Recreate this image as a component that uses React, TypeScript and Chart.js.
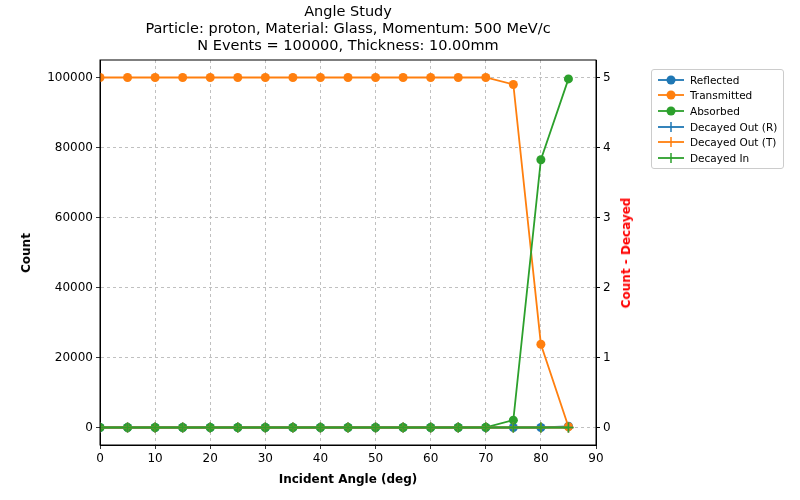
import { useEffect, useRef } from 'react'
import Chart from 'chart.js/auto'

const angles = [0, 5, 10, 15, 20, 25, 30, 35, 40, 45, 50, 55, 60, 65, 70, 75, 80, 85]
const reflected = [0, 0, 0, 0, 0, 0, 0, 0, 0, 0, 0, 0, 0, 0, 0, 0, 0, 350]
const transmitted = [100000, 100000, 100000, 100000, 100000, 100000, 100000, 100000, 100000, 100000, 100000, 100000, 100000, 100000, 100000, 98000, 23800, 200]
const absorbed = [0, 0, 0, 0, 0, 0, 0, 0, 0, 0, 0, 0, 0, 0, 50, 2100, 76500, 99600]
const decayedOutR = angles.map(() => 0)
const decayedOutT = angles.map(() => 0)
const decayedIn = angles.map(() => 0)
const countTicks = [0, 20000, 40000, 60000, 80000, 100000]
const decayTicks = [0, 1, 2, 3, 4, 5]

const BLUE = '#1f77b4'
const ORANGE = '#ff7f0e'
const GREEN = '#2ca02c'
const FONT = 'DejaVu Sans'

const legendItems = [
  { label: 'Reflected', color: BLUE, marker: 'circle' },
  { label: 'Transmitted', color: ORANGE, marker: 'circle' },
  { label: 'Absorbed', color: GREEN, marker: 'circle' },
  { label: 'Decayed Out (R)', color: BLUE, marker: 'cross' },
  { label: 'Decayed Out (T)', color: ORANGE, marker: 'cross' },
  { label: 'Decayed In', color: GREEN, marker: 'cross' },
]

export default function App() {
  const chartRef = useRef<HTMLCanvasElement>(null)
  const chartInstance = useRef<Chart | null>(null)

  useEffect(() => {
    if (!chartRef.current) return
    if (chartInstance.current) chartInstance.current.destroy()

    const line = (label: string, data: number[], color: string, axis: string, style: string, i: number) => ({
      label,
      data,
      borderColor: color,
      backgroundColor: color,
      borderWidth: 1.8,
      pointStyle: style,
      pointRadius: style === 'circle' ? 4.5 : 5,
      pointBorderWidth: style === 'circle' ? 0 : 1.5,
      yAxisID: axis,
      order: 6 - i,
    })

    const frame = {
      id: 'frame',
      afterDraw(c: Chart) {
        const { ctx, chartArea: a } = c
        ctx.save()
        ctx.strokeStyle = '#000'
        ctx.lineWidth = 1
        ctx.strokeRect(a.left, a.top, a.right - a.left, a.bottom - a.top)
        ctx.restore()
      },
    }

    const grid = { color: '#b0b0b0', lineWidth: 0.8, tickLength: 4, tickColor: '#000' }
    const tickFont = { family: FONT, size: 12 }

    chartInstance.current = new Chart(chartRef.current, {
      type: 'line',
      data: {
        labels: angles,
        datasets: [
          line('Reflected', reflected, BLUE, 'y', 'circle', 0),
          line('Transmitted', transmitted, ORANGE, 'y', 'circle', 1),
          line('Absorbed', absorbed, GREEN, 'y', 'circle', 2),
          line('Decayed Out (R)', decayedOutR, BLUE, 'y1', 'cross', 3),
          line('Decayed Out (T)', decayedOutT, ORANGE, 'y1', 'cross', 4),
          line('Decayed In', decayedIn, GREEN, 'y1', 'cross', 5),
        ] as any,
      },
      options: {
        animation: false,
        responsive: false,
        layout: { padding: { top: 60, right: 164, left: 0, bottom: 0 } },
        plugins: { legend: { display: false }, tooltip: { enabled: false } },
        scales: {
          x: {
            type: 'linear',
            min: 0,
            max: 90,
            ticks: { stepSize: 10, color: '#000', font: tickFont },
            grid,
            border: { color: '#000', dash: [3, 3] },
            afterFit: (s: any) => { s.height = 55 },
          },
          y: {
            min: -5000,
            max: 105000,
            afterBuildTicks: (s: any) => { s.ticks = countTicks.map(v => ({ value: v })) },
            ticks: { color: '#000', font: tickFont, callback: (v: any) => String(v) },
            grid,
            border: { color: '#000', dash: [3, 3] },
            afterFit: (s: any) => { s.width = 100 },
          },
          y1: {
            position: 'right',
            min: -0.25,
            max: 5.25,
            afterBuildTicks: (s: any) => { s.ticks = decayTicks.map(v => ({ value: v })) },
            ticks: { color: '#000', font: tickFont },
            grid: { drawOnChartArea: false, tickLength: 4, tickColor: '#000' },
            border: { color: '#000' },
            afterFit: (s: any) => { s.width = 40 },
          },
        },
      } as any,
      plugins: [frame],
    })

    return () => {
      if (chartInstance.current) chartInstance.current.destroy()
    }
  }, [])

  const label = { position: 'absolute' as const, fontSize: 12, fontWeight: 'bold' as const, whiteSpace: 'nowrap' as const }

  return (
    <div style={{ position: 'fixed', left: 0, top: 0, width: 800, height: 500, background: '#fff', fontFamily: FONT }}>
      <div style={{ position: 'absolute', top: 3, left: 40, width: 616, textAlign: 'center', fontSize: 14.5, lineHeight: '17px' }}>
        <div>Angle Study</div>
        <div>Particle: proton, Material: Glass, Momentum: 500 MeV/c</div>
        <div>N Events = 100000, Thickness: 10.00mm</div>
      </div>
      <canvas ref={chartRef} width={800} height={500}></canvas>
      <div style={{ ...label, left: 348, top: 472, width: 0, display: 'flex', justifyContent: 'center' }}>Incident Angle (deg)</div>
      <div style={{ ...label, left: 26, top: 253, transform: 'translate(-50%,-50%) rotate(-90deg)' }}>Count</div>
      <div style={{ ...label, left: 626, top: 253, color: 'red', transform: 'translate(-50%,-50%) rotate(-90deg)' }}>Count - Decayed</div>
      <div style={{ position: 'absolute', left: 651, top: 69, width: 131, border: '1px solid #ccc', borderRadius: 3, padding: '2px 0', fontSize: 10.5 }}>
        {legendItems.map(item => (
          <div key={item.label} style={{ display: 'flex', alignItems: 'center', height: 15.6, whiteSpace: 'nowrap' }}>
            <svg width={30} height={12} style={{ marginLeft: 4, marginRight: 4 }}>
              <line x1={2} y1={6} x2={28} y2={6} stroke={item.color} strokeWidth={1.8} />
              {item.marker === 'circle'
                ? <circle cx={15} cy={6} r={4.5} fill={item.color} />
                : <line x1={15} y1={1} x2={15} y2={11} stroke={item.color} strokeWidth={1.5} />}
            </svg>
            <span>{item.label}</span>
          </div>
        ))}
      </div>
    </div>
  )
}
